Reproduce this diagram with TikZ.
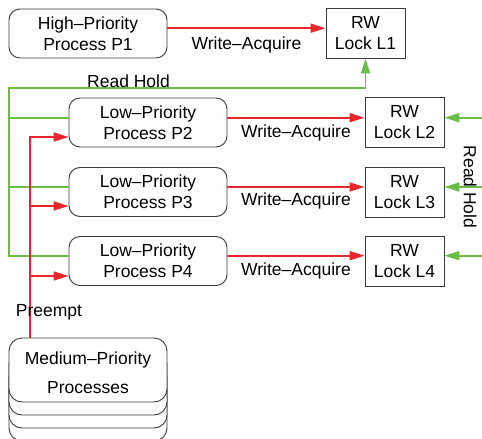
\documentclass[tikz,border=0pt]{standalone}
\usepackage{fontspec}
\setmainfont{Liberation Sans}
\usetikzlibrary{arrows.meta}
\definecolor{ared}{HTML}{E8262B}
\definecolor{agreen}{HTML}{6ABD45}
\definecolor{bord}{HTML}{3A3A3A}
\begin{document}
\begin{tikzpicture}[x=1pt,y=-1pt,
  font=\fontsize{17.5}{21}\selectfont,
  proc/.style={draw=bord, line width=0.9pt, rounded corners=11pt, minimum width=158pt, minimum height=49pt, align=center, inner sep=0pt, fill=white},
  lock/.style={draw=bord, line width=0.9pt, minimum width=79pt, minimum height=50pt, align=center, inner sep=0pt},
  rarr/.style={draw=ared, line width=1.8pt, -{Triangle[length=15pt,width=9pt]}},
  garr/.style={draw=agreen, line width=1.8pt, -{Triangle[length=15pt,width=9pt]}},
  gline/.style={draw=agreen, line width=1.8pt},
  lbl/.style={inner sep=0pt, anchor=base},
  back/.style={draw=bord, line width=0.9pt, fill=white, rounded corners=13pt}]
\useasboundingbox (0,0) rectangle (482,439);

% stacked medium boxes (back copies)
\foreach \d in {39,26,13} {
  \draw[back] (9,338+\d) rectangle (167,402+\d);
}

% nodes
\node[proc] (P1) at (88,33.5) {High–Priority\\Process P1};
\node[lock] (L1) at (365.5,33) {RW\\Lock L1};
\node[proc] (P2) at (148,122.5) {Low–Priority\\Process P2};
\node[proc] (P3) at (148,192) {Low–Priority\\Process P3};
\node[proc] (P4) at (148,261) {Low–Priority\\Process P4};
\node[lock] (L2) at (404.5,122) {RW\\Lock L2};
\node[lock] (L3) at (404.5,192) {RW\\Lock L3};
\node[lock] (L4) at (404.5,261) {RW\\Lock L4};
\node[proc, minimum height=64pt, rounded corners=13pt] (M) at (88,370) {\rule{0pt}{19pt}Medium–Priority\\[8pt]Processes};

% coordinates
\coordinate (gx) at (9,0);
\coordinate (gtop) at (9,88);
\coordinate (px) at (30,0);
\coordinate (re) at (486,0);

% write-acquire arrows
\coordinate (a1) at ([yshift=5.3pt]P1.east);
\draw[rarr] (a1) -- (a1 -| L1.west);
\coordinate (a2) at ([yshift=4.8pt]P2.east);
\draw[rarr] (a2) -- (a2 -| L2.west);
\coordinate (a3) at ([yshift=5pt]P3.east);
\draw[rarr] (a3) -- (a3 -| L3.west);
\coordinate (a4) at ([yshift=5.3pt]P4.east);
\draw[rarr] (a4) -- (a4 -| L4.west);

\node[lbl] (w1) at (246.5,49) {Write–Acquire};
\node[lbl] (w2) at (296,137) {Write–Acquire};
\node[lbl] (w3) at (296,205.5) {Write–Acquire};
\node[lbl] (w4) at (296,275) {Write–Acquire};

% green read hold (left)
\coordinate (g2) at ([yshift=4.8pt]P2.west);
\coordinate (g3) at ([yshift=5pt]P3.west);
\coordinate (g4) at ([yshift=5.3pt]P4.west);
\draw[garr] (g4) -- (g4 -| gx) -- (gtop) -| (L1.south);
\draw[gline] (g2) -- (g2 -| gx);
\draw[gline] (g3) -- (g3 -| gx);
\node[lbl] (rh1) at (128.5,87.5) {Read Hold};

% green read hold (right)
\coordinate (r2) at ([yshift=4.3pt]L2.east);
\coordinate (r3) at ([yshift=5pt]L3.east);
\coordinate (r4) at ([yshift=5.3pt]L4.east);
\draw[garr] (r2 -| re) -- (r2);
\draw[garr] (r3 -| re) -- (r3);
\draw[garr] (r4 -| re) -- (r4);
\node[rotate=-90, inner sep=0pt] (rh2) at (470,187) {Read Hold};

% preempt
\coordinate (q2) at ([yshift=-14.5pt]P2.west);
\coordinate (q3) at ([yshift=-14pt]P3.west);
\coordinate (q4) at ([yshift=-15pt]P4.west);
\draw[rarr] (M.north -| px) |- (q2);
\draw[rarr] (q3 -| px) -- (q3);
\draw[rarr] (q4 -| px) -- (q4);
\node[lbl] (pre) at (49,316) {Preempt};
\end{tikzpicture}
\end{document}
